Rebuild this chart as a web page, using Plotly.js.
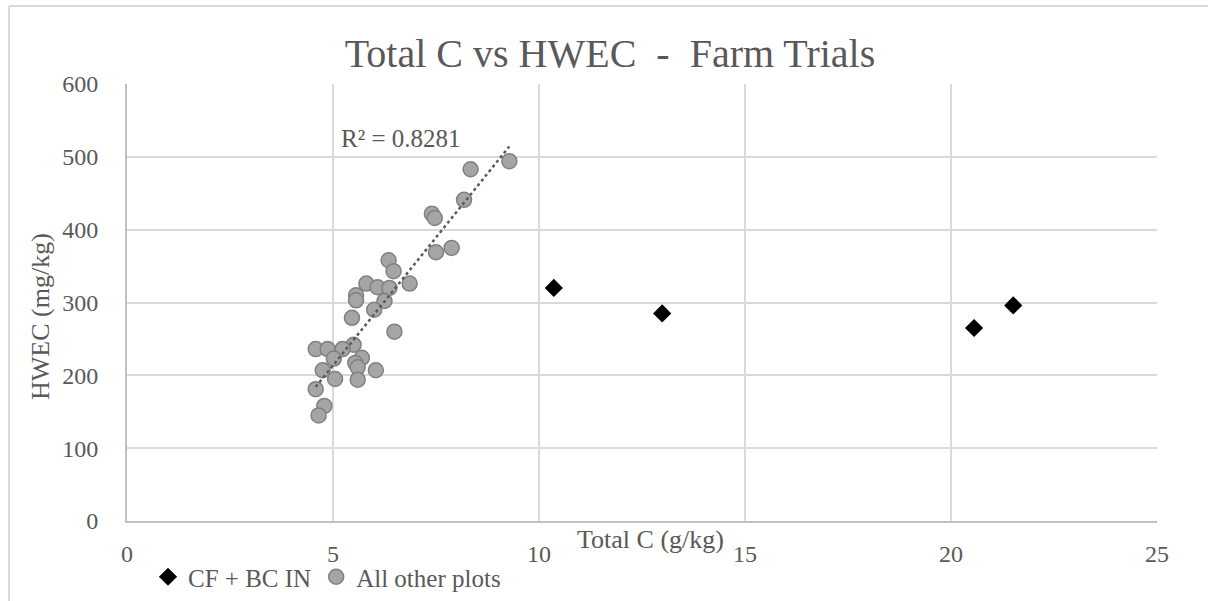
<!DOCTYPE html>
<html>
<head>
<meta charset="utf-8">
<script src="https://cdn.plot.ly/plotly-3.0.1.min.js"></script>
<style>
html,body{margin:0;padding:0;background:#fff;}
#chart{width:1208px;height:601px;}
</style>
</head>
<body>
<div id="chart"></div>
<script>
// CF + BC IN plots
const cfX = [10.36, 12.99, 20.56, 21.51];
const cfY = [320, 285, 265, 296];

// All other plots
const otherX = [9.28, 8.34, 8.18, 7.40, 7.47, 7.88, 7.50, 6.35, 6.47, 6.86, 5.81, 6.08, 6.37, 5.56, 5.56, 6.25, 6.00, 5.46, 6.49, 5.50, 5.23, 4.58, 4.87, 5.02, 5.70, 5.54, 5.60, 6.04, 4.75, 5.05, 5.60, 4.58, 4.79, 4.65];
const otherY = [494, 483, 441, 422, 416, 375, 369, 358, 343, 326, 326, 321, 320, 310, 303, 302, 290, 279, 260, 242, 236, 236, 236, 223, 224, 217, 211, 207, 207, 195, 194, 181, 158, 145];

const seriesNames = ["CF + BC IN", "All other plots"];
const chartTitle = "Total C vs HWEC  -  Farm Trials";
const xTitle = "Total C (g/kg)";
const yTitle = "HWEC (mg/kg)";
const r2Label = "R² = 0.8281";

// linear trendline on "All other plots"
function fit(xs, ys) {
  const n = xs.length;
  const mx = xs.reduce((a, b) => a + b, 0) / n;
  const my = ys.reduce((a, b) => a + b, 0) / n;
  let sxy = 0, sxx = 0;
  for (let i = 0; i < n; i++) {
    sxy += (xs[i] - mx) * (ys[i] - my);
    sxx += (xs[i] - mx) ** 2;
  }
  const m = sxy / sxx;
  return { m: m, b: my - m * mx };
}
const f = fit(otherX, otherY);
const tx = [Math.min(...otherX), Math.max(...otherX)];
const ty = tx.map(v => f.m * v + f.b);

const txt = '#595959';
const serif = 'Liberation Serif, Times New Roman, serif';

const traces = [
  {
    x: cfX, y: cfY, type: 'scatter', mode: 'markers', name: seriesNames[0],
    marker: { symbol: 'diamond', size: 14, color: '#000000', line: { width: 0 } }
  },
  {
    x: otherX, y: otherY, type: 'scatter', mode: 'markers', name: seriesNames[1],
    marker: { symbol: 'circle', size: 15, color: '#a5a5a5', line: { width: 1.5, color: '#808080' } }
  },
  {
    x: tx, y: ty, type: 'scatter', mode: 'lines', showlegend: false, hoverinfo: 'skip',
    line: { color: '#595959', width: 2.5, dash: 'dot' }
  }
];

const W = 1030, H = 437, L = 127, T = 84;
const px = p => (p - L) / W;
const py = p => (T + H - p) / H;

const layout = {
  width: 1208, height: 601,
  margin: { l: L, r: 1208 - L - W, t: T, b: 601 - T - H, pad: 0, autoexpand: false },
  paper_bgcolor: '#ffffff', plot_bgcolor: '#ffffff',
  font: { family: serif, color: txt, size: 24 },
  title: { text: chartTitle, font: { family: serif, size: 40, color: txt }, x: 610 / 1208, xref: 'container', y: 1 - 53 / 601, yref: 'container', xanchor: 'center', yanchor: 'middle' },
  xaxis: {
    range: [0, 25], dtick: 5, tick0: 0, showgrid: true, gridcolor: '#d9d9d9', gridwidth: 2,
    zeroline: false, showline: true, linecolor: '#bfbfbf', linewidth: 2, ticks: '',
    tickfont: { family: serif, size: 24, color: txt }, ticklabelstandoff: 10,
    automargin: false, fixedrange: true
  },
  yaxis: {
    range: [0, 600], dtick: 100, tick0: 0, showgrid: true, gridcolor: '#d9d9d9', gridwidth: 2,
    zeroline: false, showline: true, linecolor: '#bfbfbf', linewidth: 2, ticks: '',
    tickfont: { family: serif, size: 24, color: txt }, ticklabelstandoff: 22,
    automargin: false, fixedrange: true
  },
  showlegend: true,
  legend: {
    orientation: 'h', x: px(148), xanchor: 'left', y: py(577), yanchor: 'middle',
    font: { family: serif, size: 25, color: txt }, itemwidth: 30, tracegroupgap: 0,
    bgcolor: 'rgba(0,0,0,0)'
  },
  annotations: [
    { text: xTitle, xref: 'paper', yref: 'paper', x: px(650), y: py(539), xanchor: 'center', yanchor: 'middle', showarrow: false, font: { family: serif, size: 26, color: txt } },
    { text: yTitle, xref: 'paper', yref: 'paper', x: px(40), y: py(317), xanchor: 'center', yanchor: 'middle', textangle: -90, showarrow: false, font: { family: serif, size: 26, color: txt } },
    { text: r2Label, xref: 'x', yref: 'y', x: 6.65, y: 525, xanchor: 'center', yanchor: 'middle', showarrow: false, font: { family: serif, size: 25, color: txt } }
  ],
  shapes: [
    { type: 'line', xref: 'paper', yref: 'paper', x0: px(9), x1: px(9), y0: py(6), y1: py(601), line: { color: '#d9d9d9', width: 2 } },
    { type: 'line', xref: 'paper', yref: 'paper', x0: px(9), x1: px(1208), y0: py(6), y1: py(6), line: { color: '#d9d9d9', width: 2 } }
  ]
};

Plotly.newPlot('chart', traces, layout, { displayModeBar: false, staticPlot: true });
</script>
</body>
</html>
